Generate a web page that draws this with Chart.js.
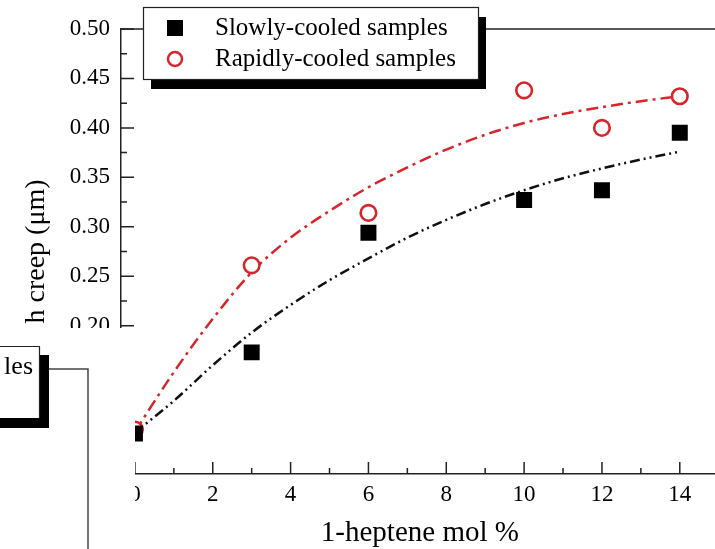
<!DOCTYPE html>
<html>
<head>
<meta charset="utf-8">
<script src="https://cdn.jsdelivr.net/npm/chart.js@4.4.1/dist/chart.umd.min.js"></script>
<style>
  html, body { margin: 0; padding: 0; background: #fff; overflow: hidden; }
  #wrap { width: 730px; height: 549px; }
</style>
</head>
<body>
<div id="wrap"><canvas id="chart" width="730" height="549"></canvas></div>
<script>
// tick labels
const xTicks = [0, 2, 4, 6, 8, 10, 12, 14];
const xMinorTicks = [1, 3, 5, 7, 9, 11, 13];
const yTicks = [0.05, 0.10, 0.15, 0.20, 0.25, 0.30, 0.35, 0.40, 0.45, 0.50];
const yMinorTicks = [0.075, 0.125, 0.175, 0.225, 0.275, 0.325, 0.375, 0.425, 0.475];

// measured samples
const heptene = [0, 3, 6, 10, 12, 14];
const slowlyCooled = [0.091, 0.173, 0.294, 0.327, 0.337, 0.395];
const rapidlyCooled = [0.095, 0.261, 0.314, 0.438, 0.400, 0.432];

// fitted curves
const fitX = [0, 1, 2, 3, 4, 5, 6, 7, 8, 9, 10, 11, 12, 13, 14];
const slowlyFit = [0.092, 0.124, 0.160, 0.193, 0.221, 0.246, 0.268, 0.289, 0.307, 0.323, 0.337, 0.349, 0.359, 0.368, 0.376];
const rapidlyFit = [0.093, 0.153, 0.207, 0.254, 0.289, 0.316, 0.340, 0.360, 0.378, 0.393, 0.405, 0.414, 0.421, 0.427, 0.432];

const RED = "#d6262c";
const FONT = "'Liberation Serif', 'Times New Roman', serif";

const pts = (xs, ys) => xs.map((x, i) => ({ x: x, y: ys[i] }));

// inward ticks, top frame, boxed legend and the pasted-over corner
const decorations = {
    id: "decorations",
    afterDraw(chart) {
        const ctx = chart.ctx;
        const xs = chart.scales.x, ys = chart.scales.y;
        const area = chart.chartArea;
        ctx.save();
        ctx.strokeStyle = "#222";
        ctx.lineWidth = 1.5;

        // top frame
        ctx.beginPath();
        ctx.moveTo(area.left, area.top);
        ctx.lineTo(area.right, area.top);
        ctx.stroke();

        // x ticks pointing up
        ctx.beginPath();
        xTicks.forEach(v => { const p = xs.getPixelForValue(v); ctx.moveTo(p, area.bottom); ctx.lineTo(p, area.bottom - 12); });
        xMinorTicks.forEach(v => { const p = xs.getPixelForValue(v); ctx.moveTo(p, area.bottom); ctx.lineTo(p, area.bottom - 6); });
        // y ticks pointing right
        yTicks.forEach(v => { const p = ys.getPixelForValue(v); ctx.moveTo(area.left, p); ctx.lineTo(area.left + 13, p); });
        yMinorTicks.forEach(v => { const p = ys.getPixelForValue(v); ctx.moveTo(area.left, p); ctx.lineTo(area.left + 6, p); });
        ctx.stroke();

        // legend with drop shadow
        const bx = 143, by = 7, bw = 335, bh = 72;
        ctx.fillStyle = "#000";
        ctx.fillRect(bx + 8, by + 10, bw, bh);
        ctx.fillStyle = "#fff";
        ctx.fillRect(bx, by, bw, bh);
        ctx.lineWidth = 1.2;
        ctx.strokeRect(bx + 0.5, by + 0.5, bw, bh);

        const ds = chart.data.datasets;
        ctx.fillStyle = "#000";
        ctx.fillRect(175 - 8, 28 - 8, 16, 16);
        ctx.beginPath();
        ctx.arc(175, 59, 7, 0, Math.PI * 2);
        ctx.strokeStyle = RED;
        ctx.lineWidth = 2.5;
        ctx.stroke();
        ctx.font = "25px " + FONT;
        ctx.textBaseline = "middle";
        ctx.textAlign = "left";
        ctx.fillStyle = "#000";
        ctx.fillText(ds[0].label, 215, 28);
        ctx.fillText(ds[1].label, 215, 59);

        // white patch over the lower-left corner
        ctx.fillStyle = "#fff";
        ctx.fillRect(0, 328, 135, 221);

        // fragment of another legend box
        ctx.fillStyle = "#000";
        ctx.fillRect(39, 355, 10, 73);
        ctx.fillRect(0, 418, 49, 10);
        ctx.strokeStyle = "#222";
        ctx.lineWidth = 1.2;
        ctx.beginPath();
        ctx.moveTo(-1, 346.5); ctx.lineTo(39.5, 346.5); ctx.lineTo(39.5, 418);
        ctx.stroke();
        ctx.fillStyle = "#000";
        ctx.textAlign = "right";
        ctx.font = "26px " + FONT;
        ctx.fillText("les", 33, 367);
        ctx.strokeStyle = "#444";
        ctx.lineWidth = 1.5;
        ctx.beginPath();
        ctx.moveTo(49, 369); ctx.lineTo(88, 369); ctx.lineTo(88, 549);
        ctx.stroke();
        ctx.restore();
    }
};

new Chart(document.getElementById("chart").getContext("2d"), {
    type: "scatter",
    data: {
        datasets: [{
            label: "Slowly-cooled samples",
            data: pts(heptene, slowlyCooled),
            pointStyle: "rect",
            pointRadius: 11.3,
            backgroundColor: "#000",
            borderColor: "#000",
            borderWidth: 0,
            order: 0
        }, {
            label: "Rapidly-cooled samples",
            data: pts(heptene, rapidlyCooled),
            pointStyle: "circle",
            pointRadius: 7.8,
            backgroundColor: "#fff",
            borderColor: RED,
            borderWidth: 2.6,
            order: 0
        }, {
            label: "slowly fit",
            data: pts(fitX, slowlyFit),
            showLine: true,
            pointRadius: 0,
            borderColor: "#111",
            borderWidth: 2.5,
            borderDash: [10, 4, 2, 4, 2, 4],
            cubicInterpolationMode: "monotone",
            order: 1
        }, {
            label: "rapidly fit",
            data: pts(fitX, rapidlyFit),
            showLine: true,
            pointRadius: 0,
            borderColor: RED,
            borderWidth: 2.5,
            borderDash: [12, 5, 3, 5],
            cubicInterpolationMode: "monotone",
            order: 1
        }]
    },
    options: {
        responsive: false,
        animation: false,
        layout: { padding: { top: 29, left: 0, right: 9, bottom: 0 } },
        plugins: { legend: { display: false }, tooltip: { enabled: false } },
        scales: {
            x: {
                type: "linear",
                min: -0.358,
                max: 15,
                afterFit: s => { s.height = 75; },
                afterBuildTicks: s => { s.ticks = xTicks.map(v => ({ value: v })); },
                grid: { display: false, drawTicks: false },
                border: { display: true, color: "#222", width: 1.5 },
                ticks: { color: "#000", padding: 7, font: { family: FONT, size: 23 } },
                title: {
                    display: true,
                    text: "1-heptene mol %",
                    color: "#000",
                    padding: { top: 0, bottom: -2 },
                    font: { family: FONT, size: 29 }
                }
            },
            y: {
                type: "linear",
                min: 0.05,
                max: 0.50,
                afterFit: s => { s.width = 121; },
                afterBuildTicks: s => { s.ticks = yTicks.map(v => ({ value: v })); },
                grid: { display: false, drawTicks: false },
                border: { display: true, color: "#222", width: 1.5 },
                ticks: {
                    color: "#000",
                    padding: 11,
                    font: { family: FONT, size: 23 },
                    callback: v => v.toFixed(2)
                },
                title: {
                    display: true,
                    text: "h creep (μm)",
                    color: "#000",
                    padding: { top: 20, bottom: 0 },
                    font: { family: FONT, size: 28 }
                }
            }
        }
    },
    plugins: [decorations]
});
</script>
</body>
</html>
